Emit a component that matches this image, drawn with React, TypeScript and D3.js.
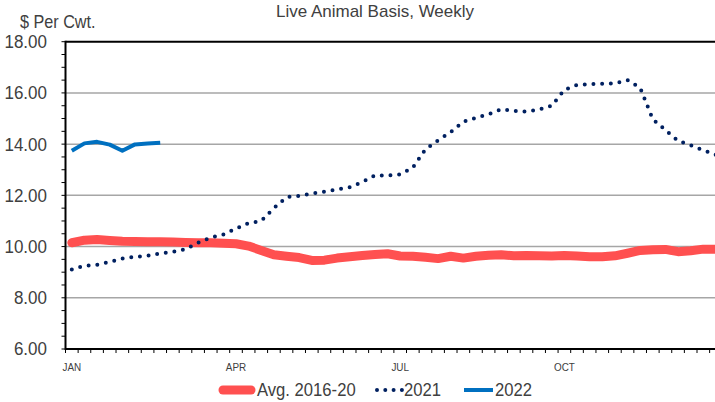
import React from 'react';
import * as d3 from 'd3';

// weekly values, $ per cwt
const weeks = d3.range(52);
const avg1620 = [
  10.15, 10.25, 10.28, 10.24, 10.21, 10.2, 10.19, 10.19, 10.18, 10.16, 10.15, 10.15, 10.13,
  10.11, 10.02, 9.85, 9.68, 9.62, 9.57, 9.46, 9.47, 9.55, 9.6, 9.65, 9.69, 9.72,
  9.63, 9.62, 9.58, 9.53, 9.62, 9.55, 9.62, 9.66, 9.68, 9.64, 9.65, 9.64, 9.63,
  9.65, 9.63, 9.6, 9.6, 9.64, 9.74, 9.85, 9.88, 9.89, 9.8, 9.84, 9.9, 9.89,
];
const y2021 = [
  9.1, 9.25, 9.29, 9.4, 9.53, 9.6, 9.64, 9.73, 9.79, 9.9, 10.15, 10.35, 10.47,
  10.7, 10.92, 11.0, 11.5, 11.93, 11.98, 12.07, 12.14, 12.23, 12.32, 12.52, 12.78, 12.77,
  12.82, 13.08, 13.8, 14.15, 14.47, 14.88, 15.03, 15.17, 15.36, 15.3, 15.27, 15.35, 15.5,
  16.12, 16.31, 16.34, 16.36, 16.37, 16.5, 16.2, 14.97, 14.55, 14.13, 13.96, 13.76, 13.58,
];
const y2022 = [13.74, 14.03, 14.09, 13.98, 13.74, 13.99, 14.02, 14.05];

const monthLabels = ['JAN', 'APR', 'JUL', 'OCT'];
const monthWeeks = [0, 13, 26, 39];
const yTicks = [6, 8, 10, 12, 14, 16, 18];

const W = 715;
const H = 402;
const left = 65.5;
const top = 41.7;
const bottom = 349;
const bandW = 12.63;

const FONT = '"Liberation Sans", Arial, sans-serif';
const TXT = '#404040';

// condensed text: the original uses a narrow face, so squeeze horizontally
function T({ x, y, size, anchor = 'start', children, sx = 0.9 }: any) {
  return (
    <text transform={`translate(${x},${y}) scale(${sx},1)`} fontSize={size}
      textAnchor={anchor} dy="0.35em" fill={TXT}>
      {children}
    </text>
  );
}

export default function App() {
  const x = d3.scaleBand<number>().domain(weeks).range([left, left + bandW * 52]).padding(0);
  const cx = (i: number) => (x(i) as number) + x.bandwidth() / 2;
  const y = d3.scaleLinear().domain([6, 18]).range([bottom, top]);

  const line = d3.line<number>().x((_, i) => cx(i)).y(d => y(d));

  const minorY = d3.range(6, 18.01, 0.5);
  const xTicks = d3.range(53).map(k => left + k * bandW);

  return (
    <div style={{ position: 'fixed', left: 0, top: 0 }}>
      <svg width={W} height={H} style={{ display: 'block', background: '#fff' }} fontFamily={FONT}>
        <T x={375} y={11} size={17} anchor="middle" sx={1}>Live Animal Basis, Weekly</T>
        <T x={20} y={22} size={18} sx={0.9}>$ Per Cwt.</T>

        {/* gridlines */}
        {yTicks.slice(1, -1).map(t => (
          <line key={t} x1={left} x2={W} y1={y(t)} y2={y(t)} stroke="#a6a6a6" strokeWidth={1.5} />
        ))}

        {/* y ticks & labels */}
        {minorY.map(t => (
          <line key={t} x1={left - 4} x2={left} y1={y(t)} y2={y(t)} stroke="#000" strokeWidth={1} />
        ))}
        {yTicks.map(t => (
          <T key={t} x={47} y={y(t)} size={18.5} anchor="end" sx={0.92}>{t.toFixed(2)}</T>
        ))}

        {/* x ticks & labels */}
        {xTicks.map((t, k) => (
          <line key={k} x1={t} x2={t} y1={bottom} y2={bottom + 4} stroke="#000" strokeWidth={1} />
        ))}
        {monthLabels.map((m, k) => (
          <T key={m} x={cx(monthWeeks[k])} y={367} size={11} anchor="middle" sx={0.9}>{m}</T>
        ))}

        {/* series */}
        <path d={line(avg1620) || ''} fill="none" stroke="#ff5050" strokeWidth={9}
          strokeLinejoin="round" strokeLinecap="round" />
        <path d={line(y2021) || ''} fill="none" stroke="#002060" strokeWidth={4}
          strokeDasharray="0 8.7" strokeLinecap="round" />
        <path d={line(y2022) || ''} fill="none" stroke="#0070c0" strokeWidth={4}
          strokeLinejoin="round" strokeLinecap="butt" />

        {/* frame */}
        <line x1={left} x2={W} y1={top} y2={top} stroke="#000" strokeWidth={2} />
        <line x1={left} x2={W} y1={bottom} y2={bottom} stroke="#000" strokeWidth={2} />
        <line x1={left} x2={left} y1={top - 1} y2={bottom + 1} stroke="#000" strokeWidth={2} />

        {/* legend */}
        <g transform="translate(0,390)">
          <line x1={223} x2={251} y1={0} y2={0} stroke="#ff5050" strokeWidth={9} strokeLinecap="round" />
          <T x={257} y={0} size={18.5} sx={0.9}>Avg. 2016-20</T>
          <line x1={377} x2={402} y1={0} y2={0} stroke="#002060" strokeWidth={4}
            strokeDasharray="0 8.3" strokeLinecap="round" />
          <T x={404} y={0} size={18.5} sx={0.9}>2021</T>
          <line x1={464} x2={493} y1={0} y2={0} stroke="#0070c0" strokeWidth={4} />
          <T x={495} y={0} size={18.5} sx={0.9}>2022</T>
        </g>
      </svg>
    </div>
  );
}
